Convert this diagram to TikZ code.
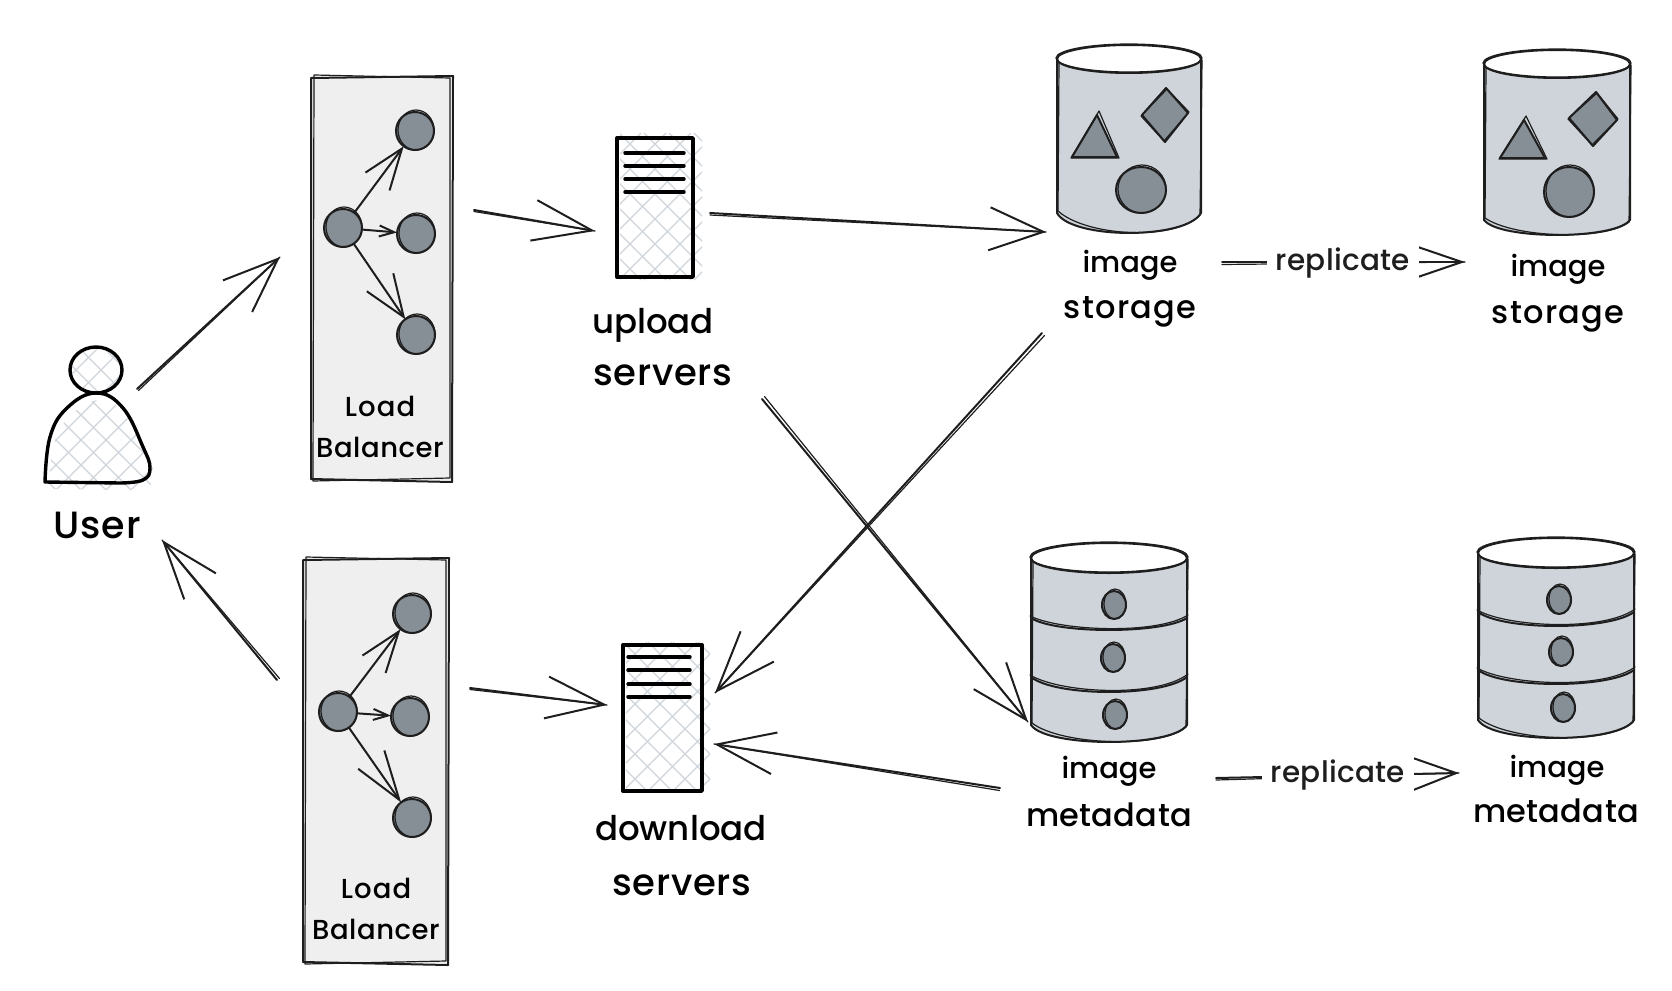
\documentclass[tikz,border=0pt]{standalone}
\usepackage{fontspec}
\setmainfont{Poppins}
\newfontfamily\medf{Poppins Medium}
\usetikzlibrary{arrows.meta}
\definecolor{ink}{HTML}{1E1E1E}
\definecolor{lbfill}{HTML}{EFEFEF}
\definecolor{cylfill}{HTML}{CED4DA}
\definecolor{dotfill}{HTML}{868E96}
\newcommand\lfont[2]{\medf\fontsize{#1}{#1}\selectfont\addfontfeatures{LetterSpace=#2}}
\tikzset{
  skl/.style={draw=ink,line width=2pt,line cap=round,line join=round},
  thinl/.style={draw=ink,line width=1.2pt,line cap=round,line join=round},
  heavy/.style={draw=black,line width=3.4pt,line cap=round,line join=round},
  holder/.style={draw=none,fill=none,inner sep=0pt,outer sep=0pt},
  dotn/.style={circle,draw=ink,fill=dotfill,line width=2pt,minimum size=38pt,inner sep=0pt,outer sep=0pt},
  hatchl/.style={draw=cylfill,line width=1.3pt},
  lab/.style={anchor=base,text=black,inner sep=0pt},
  repl/.style={anchor=base,text=ink,fill=white,inner xsep=9pt,inner ysep=5pt,font=\lfont{29.5}{1}},
}
% main connector: start shift, start node, end shift, end node, tip length, tip width, second stroke offset
\newcommand\sconn[7]{%
  \draw[skl,-{Straight Barb[length=#5pt,width=#6pt]}] ([shift={(#1)}]#2) -- ([shift={(#3)}]#4);
  \draw[thinl] ([shift={(#1)},shift={(#7)}]#2) -- ([shift={(#3)}]#4);
}
% hatch inside a rectangle
\newcommand\skhatch[4]{%
  \begin{scope}
    \clip (#1,#2) rectangle (#3,#4);
    \foreach \k in {0,1,...,24}{
      \draw[hatchl] ({#1-4+\k*25},{#2}) -- ({#1-4+\k*25-(#4-#2)},{#4});
      \draw[hatchl] ({#1-4-(#4-#2)+\k*25},{#2}) -- ({#1-4+\k*25},{#4});
    }
  \end{scope}
}
% sketchy rectangle
\newcommand\skrect[4]{%
  \fill[lbfill] (#1,#2) rectangle (#3,#4);
  \draw[skl] ({#1-1},{#2+1}) -- ({#3+2},{#2-1}) -- ({#3+1},{#4+2}) -- ({#1-1},{#4-1}) -- cycle;
  \draw[thinl] ({#1+2},{#2-2}) -- ({#3-1},{#2+1}) -- ({#3-1},{#4-2}) -- ({#1+1},{#4+1}) -- cycle;
}
% cylinder: left, right, top centre y, side bottom y, top radius y, bottom depth
\newcommand\skcyl[6]{%
  \fill[cylfill] (#1,#3) -- (#1,#4) .. controls ({#1+15},{#4+#6*1.33}) and ({#2-15},{#4+#6*1.33}) .. (#2,#4) -- (#2,#3) -- cycle;
  \draw[skl] (#1,#3) -- (#1,#4) .. controls ({#1+15},{#4+#6*1.33}) and ({#2-15},{#4+#6*1.33}) .. (#2,#4) -- (#2,#3);
  \draw[thinl] ({#1+2},{#3+2}) -- ({#1+1},{#4-2}) .. controls ({#1+30},{#4+#6*1.2}) and ({#2-25},{#4+#6*1.4}) .. ({#2-1},{#4+2}) -- ({#2+1},{#3+1});
  \draw[skl,fill=white] ({(#1+#2)/2},#3) ellipse [x radius={(#2-#1)/2*1pt},y radius=#5pt];
  \draw[thinl] ({(#1+#2)/2},{#3-1}) ellipse [x radius={(#2-#1)/2*1pt+1pt},y radius=#5pt];
}
\newcommand\skarc[4]{%
  \draw[skl] (#1,#3) .. controls ({#1+25},{#3+#4*1.33}) and ({#2-25},{#3+#4*1.33}) .. (#2,#3);
  \draw[thinl] ({#1-1},{#3-2}) .. controls ({#1+30},{#3+#4*1.1}) and ({#2-30},{#3+#4*1.4}) .. ({#2+1},{#3-3});
}
\newcommand\skblob[4]{% centre x, y, radius x, radius y
  \draw[skl,fill=dotfill] (#1,#2) ellipse [x radius=#3pt,y radius=#4pt];
  \draw[thinl] ({#1+1},{#2-1}) ellipse [x radius={#3*1pt-1pt},y radius={#4*1pt+1pt}];
}
\newcommand\sktri[6]{%
  \draw[skl,fill=dotfill] (#1,#2) -- (#3,#4) -- (#5,#6) -- cycle;
  \draw[thinl] ({#1+2},{#2-4}) -- ({#3-1},{#4+1}) -- ({#5+2},{#6+1}) -- cycle;
}
\newcommand\skdia[8]{%
  \draw[skl,fill=dotfill] (#1,#2) -- (#3,#4) -- (#5,#6) -- (#7,#8) -- cycle;
  \draw[thinl] ({#1+1},{#2+1}) -- ({#3+1},{#4-1}) -- ({#5-1},{#6-1}) -- ({#7-1},{#8+1}) -- cycle;
}
\newcommand\skdot[3]{%
  \node[dotn] (#1) at (#2,#3) {};
  \draw[thinl] ({#2+1},{#3-1}) ellipse [x radius=18pt,y radius=20pt];
}
\newcommand\bodypath{plot[smooth,tension=.7] coordinates {(45,482)(50,437)(67,408)(96,393)(123,408)(143,447)(150,468)(143,480)(120,483)} -- cycle}
\begin{document}
\begin{tikzpicture}[x=1pt,y=-1pt]
\useasboundingbox (0,0) rectangle (1672,990);

% holders for the icons (named, invisible)
\node[holder,minimum width=108pt,minimum height=138pt] (user) at (97,415) {};
\node[holder,minimum width=139pt,minimum height=403pt] (lbA) at (381.5,278.5) {};
\node[holder,minimum width=143pt,minimum height=404pt] (lbB) at (375.5,761) {};
\node[holder,minimum width=76pt,minimum height=139pt] (upsrv) at (655,207.5) {};
\node[holder,minimum width=79pt,minimum height=146pt] (dnsrv) at (662.5,718) {};
\node[holder,minimum width=144pt,minimum height=188pt] (stoA) at (1129,139) {};
\node[holder,minimum width=156pt,minimum height=199pt] (metaA) at (1109,642.5) {};
\node[holder,minimum width=146pt,minimum height=184pt] (stoB) at (1557,142) {};
\node[holder,minimum width=156pt,minimum height=200pt] (metaB) at (1556,638) {};

% user icon
\begin{scope}
  \clip (96,370) ellipse [x radius=26pt,y radius=23pt];
  \skhatch{60}{340}{130}{400}
\end{scope}
\begin{scope}
  \begin{scope}[shift={(4,7)}]
    \clip \bodypath;
    \begin{scope}[shift={(-4,-7)}]
      \skhatch{40}{385}{165}{495}
    \end{scope}
  \end{scope}
\end{scope}
\draw[heavy] (96,370) ellipse [x radius=26pt,y radius=23pt];
\draw[heavy] \bodypath;
\node[lab,font=\lfont{38}{3}] (usertxt) at (97,538) {User};

% load balancers
\skrect{312}{77}{451}{480}
\skrect{304}{559}{447}{963}
\skdot{a1}{343}{228}
\skdot{a2}{415}{131}
\skdot{a3}{416}{234}
\skdot{a4}{416}{335}
\skdot{b1}{338}{712}
\skdot{b2}{412}{614}
\skdot{b3}{410}{717}
\skdot{b4}{412}{818}
\draw[skl,-{Straight Barb[length=41pt,width=30pt]}] (a1) -- (a2);
\draw[skl,-{Straight Barb[length=15pt,width=11pt]}] (a1) -- (a3);
\draw[skl,-{Straight Barb[length=42pt,width=32pt]}] (a1) -- (a4);
\draw[skl,-{Straight Barb[length=41pt,width=29pt]}] (b1) -- (b2);
\draw[skl,-{Straight Barb[length=15pt,width=11pt]}] (b1) -- (b3);
\draw[skl,-{Straight Barb[length=49pt,width=32pt]}] (b1) -- (b4);
\node[lab,font=\lfont{27.5}{4}] (lbAa) at (380,416) {Load};
\node[lab,font=\lfont{27.5}{2}] (lbAb) at (380,457) {Balancer};
\node[lab,font=\lfont{27.5}{4}] (lbBa) at (376,898) {Load};
\node[lab,font=\lfont{27.5}{2}] (lbBb) at (376,939) {Balancer};

% servers
\skhatch{620}{133}{702}{280}
\draw[heavy] (617,138) rectangle (693,277);
\foreach \yy in {153,166,179,192}{\draw[heavy] (625,\yy) -- (684,\yy);}
\node[lab,font=\lfont{34}{0}] (uptxtA) at (653,333) {upload};
\node[lab,font=\lfont{37}{2}] (uptxtB) at (663,385) {servers};
\skhatch{626}{642}{710}{791}
\draw[heavy] (623,645) rectangle (702,791);
\foreach \yy in {657,670,684,697}{\draw[heavy] (628,\yy) -- (690,\yy);}
\node[lab,font=\lfont{34}{0}] (dntxtA) at (681,840) {download};
\node[lab,font=\lfont{37}{2}] (dntxtB) at (682,895) {servers};

% image storage
\skcyl{1057}{1201}{59}{213}{14}{20}
\sktri{1097}{115}{1072}{157}{1117}{157}
\skdia{1166}{88}{1188}{113}{1165}{142}{1142}{115}
\skblob{1141}{190}{25}{23}
\skcyl{1484}{1630}{64}{220}{14}{15}
\sktri{1524}{120}{1500}{158}{1545}{158}
\skdia{1596}{92}{1617}{120}{1593}{146}{1569}{118}
\skblob{1569}{192}{25}{25}
\node[lab,font=\lfont{29}{0}] (stoAa) at (1130,272) {image};
\node[lab,font=\lfont{32}{4}] (stoAb) at (1130,318) {storage};
\node[lab,font=\lfont{29}{0}] (stoBa) at (1558,276) {image};
\node[lab,font=\lfont{32}{4}] (stoBb) at (1558,323) {storage};

% image metadata
\skcyl{1031}{1187}{558}{725}{15}{17}
\skarc{1031}{1187}{618}{12}
\skarc{1031}{1187}{677}{15}
\skblob{1114}{605}{12}{14}
\skblob{1113}{658}{12}{14}
\skblob{1115}{715}{12}{14}
\skcyl{1478}{1634}{553}{720}{15}{18}
\skarc{1478}{1634}{612}{14}
\skarc{1478}{1634}{670}{14}
\skblob{1559}{600}{12}{14}
\skblob{1561}{652}{12}{14}
\skblob{1563}{708}{12}{14}
\node[lab,font=\lfont{29}{0}] (metaAa) at (1109,778) {image};
\node[lab,font=\lfont{32}{1}] (metaAb) at (1109,826) {metadata};
\node[lab,font=\lfont{29}{0}] (metaBa) at (1557,777) {image};
\node[lab,font=\lfont{32}{1}] (metaBb) at (1556,822) {metadata};

% connectors
\sconn{-14,-26}{user.east}{-32,-21.5}{lbA.west}{55}{43}{1.5,1.5}
\sconn{-27,-81}{lbB.west}{65,56}{user.south}{57}{41}{2.5,-1.5}
\sconn{23,-68.5}{lbA.east}{-22,23.5}{upsrv.west}{59}{41}{0,1.5}
\sconn{23,-73}{lbB.east}{-16,-13}{dnsrv.west}{58}{42}{0,1.5}
\sconn{17,5.5}{upsrv.east}{-11,93}{stoA.west}{54}{43}{0,2}
\sconn{-87,100}{stoA.south}{13,-25}{dnsrv.east}{60}{45}{2.5,2.5}
\sconn{107,122}{upsrv.south}{-3,79.5}{metaA.west}{57}{42}{2.5,-2.5}
\sconn{-31,145.5}{metaA.west}{12,26}{dnsrv.east}{58}{42}{-0.5,2.5}
\sconn{93,29}{stoA.south}{-19,120}{stoB.west}{44}{30}{0,2.5}
\sconn{107,36}{metaA.south}{-19,135}{metaB.west}{43}{32}{0,2}
\node[repl] (repA) at (1343,270) {replicate};
\node[repl] (repB) at (1338,782) {replicate};
\end{tikzpicture}
\end{document}
